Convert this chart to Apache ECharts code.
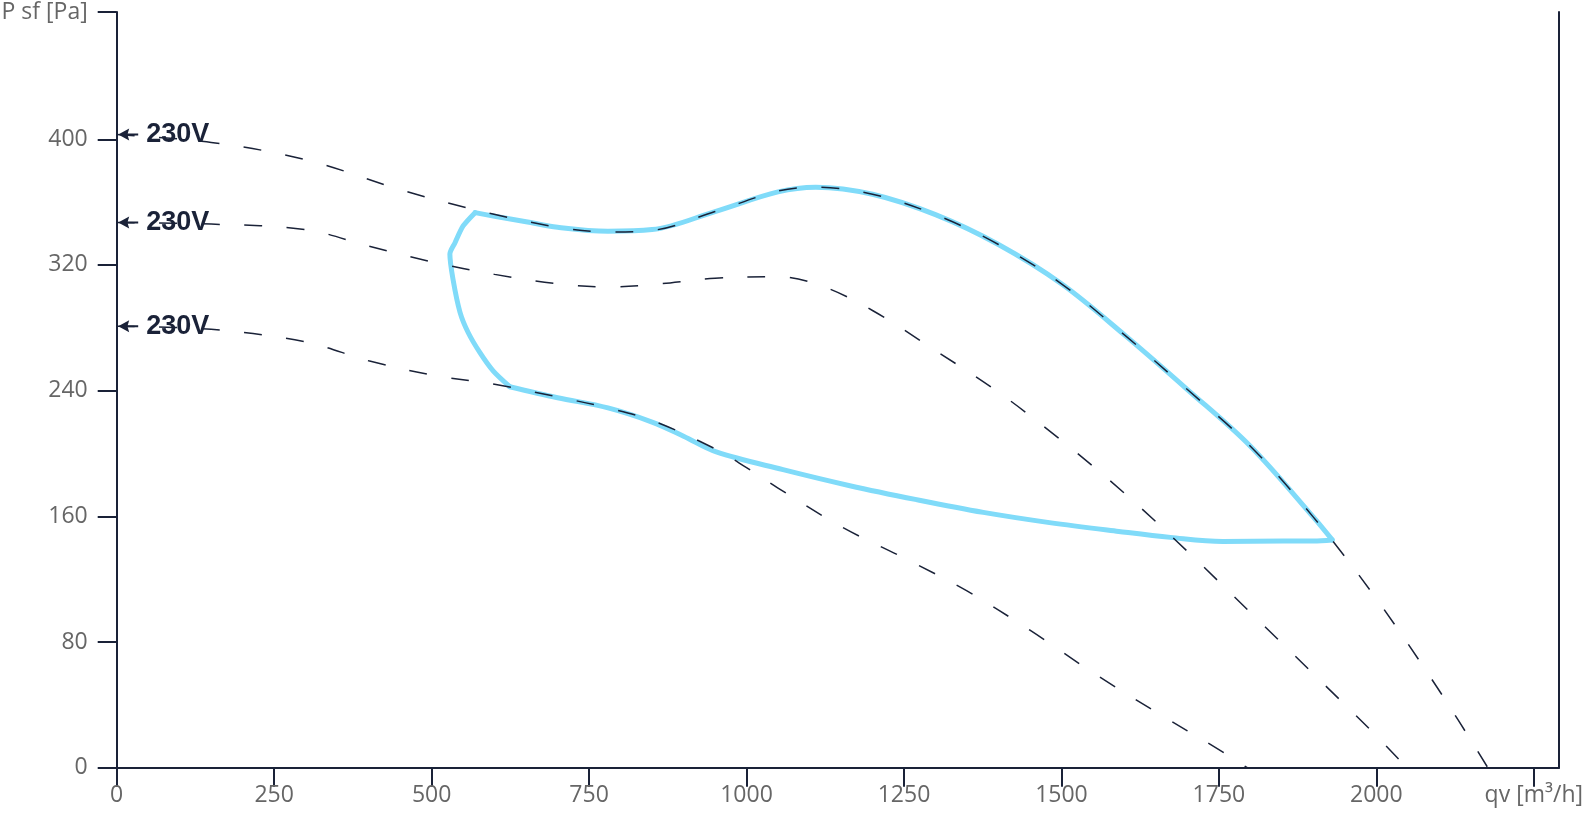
<!DOCTYPE html>
<html>
<head>
<meta charset="utf-8">
<title>Fan curve</title>
<script src="https://cdn.jsdelivr.net/npm/echarts@6/dist/echarts.min.js"></script>
<style>
  html, body { margin: 0; padding: 0; background: #fff; }
  #chart { width: 1592px; height: 814px; }
</style>
</head>
<body>
<div id="chart"></div>
<script>
// axis ticks
const xTicks = [0, 250, 500, 750, 1000, 1250, 1500, 1750, 2000, 2250]
const yTicks = [0, 80, 160, 240, 320, 400, 481]
const xName = 'qv [m³/h]'
const yName = 'P sf [Pa]'
const speedLabel = '230V'

// fan curves [qv, Psf]
const curveHigh = [[0, 403], [150, 398], [300, 387], [450, 368], [560, 356], [700, 344], [780, 341], [850, 342],
  [950, 354], [1050, 367], [1110, 369.5], [1200, 365], [1300, 352], [1400, 333], [1500, 308], [1600, 275.5],
  [1700, 240.7], [1800, 204.6], [1900, 159.5], [2000, 107.5], [2100, 49], [2177, 0]]
const curveMid = [[0, 347], [150, 346], [300, 342.5], [400, 332], [500, 322], [600, 314], [700, 308], [780, 306],
  [850, 307.5], [950, 311.5], [1050, 312.5], [1120, 306.5], [1200, 291], [1300, 265.5], [1400, 239], [1500, 208.3],
  [1600, 174.7], [1700, 137.7], [1800, 98.8], [1900, 59.7], [2000, 20.3], [2048, 0]]
const curveLow = [[0, 281], [150, 279], [300, 271], [400, 259], [500, 250], [600, 244], [700, 236], [780, 229],
  [850, 221], [950, 203], [1000, 191], [1050, 178], [1150, 153.5], [1250, 133.5], [1350, 112.5], [1450, 87.5],
  [1550, 60.5], [1650, 35.5], [1750, 11.5], [1795, 0]]

// working range envelope
const envTop = [[569, 353.3], [600, 351], [650, 347.5], [700, 344], [780, 341.5], [850, 342.5], [950, 354],
  [1050, 366.5], [1110, 369.5], [1200, 365], [1300, 352], [1400, 333], [1500, 308], [1600, 275.5], [1700, 240.7],
  [1800, 204.6], [1900, 159.5], [1930, 145]]
const envBottom = [[1930, 145], [1900, 144.3], [1852, 144.3], [1756, 144], [1673, 146.6], [1591, 150.4],
  [1481, 156], [1376, 162.5], [1270, 170.6], [1164, 179.5], [1058, 189.7], [952, 201], [900, 211], [850, 220],
  [780, 229], [700, 235.5], [624, 242.5]]
const envLeft = [[624, 242.5], [598, 252.4], [577, 264], [558, 277], [545, 290], [534, 310.8], [529, 327],
  [537, 334], [550, 344.8], [569, 353.3]]

const navy = '#1a2238'
const blue = '#80dbf9'
// left pointing arrow with shaft
const arrowPath = 'path://M0,6 L11,0 L9.5,5 L20,5 L20,7 L9.5,7 L11,12 Z'

const chart = echarts.init(document.getElementById('chart'))

const envSeries = (data, smooth) => ({
  type: 'line',
  data: data,
  smooth: smooth,
  symbol: 'none',
  silent: true,
  z: 2,
  lineStyle: { color: blue, width: 5, cap: 'round', join: 'round' }
})

const fanSeries = data => ({
  type: 'line',
  smooth: 0.35,
  symbol: 'none',
  showSymbol: true,
  clip: false,
  silent: true,
  z: 3,
  lineStyle: { color: navy, width: 1.5, type: [18, 24.5] },
  data: data.map((p, i) => i === 0 ? {
    value: p,
    symbol: arrowPath,
    symbolSize: [20, 12],
    symbolKeepAspect: false,
    symbolOffset: [11.5, 0],
    itemStyle: { color: navy },
    label: {
      show: true,
      position: 'right',
      distance: 8,
      formatter: speedLabel,
      color: navy,
      fontSize: 27,
      fontWeight: 'bold',
      fontFamily: 'Liberation Sans'
    }
  } : p)
})

const axisText = { color: '#666', fontSize: 23, fontFamily: 'Open Sans' }

chart.setOption({
  animation: false,
  grid: { left: 116.7, right: 33, top: 12, bottom: 46.3, containLabel: false, outerBoundsMode: 'none' },
  xAxis: {
    type: 'value',
    min: 0,
    max: 2290,
    interval: 250,
    splitLine: { show: false },
    axisLine: { lineStyle: { color: navy, width: 2 } },
    axisTick: { length: 19, lineStyle: { color: navy, width: 2 }, customValues: xTicks },
    axisLabel: Object.assign({
      margin: 16,
      customValues: xTicks,
      formatter: v => v === xTicks[xTicks.length - 1] ? xName : String(v)
    }, axisText)
  },
  yAxis: [{
    type: 'value',
    min: 0,
    max: 481,
    interval: 80,
    splitLine: { show: false },
    axisLine: { show: true, lineStyle: { color: navy, width: 2 } },
    axisTick: { show: true, length: 19, lineStyle: { color: navy, width: 2 }, customValues: yTicks },
    axisLabel: Object.assign({
      margin: 29,
      customValues: yTicks,
      formatter: v => v === yTicks[yTicks.length - 1] ? yName : String(v)
    }, axisText)
  }, {
    type: 'value',
    position: 'right',
    min: 0,
    max: 481,
    splitLine: { show: false },
    axisLine: { show: true, lineStyle: { color: navy, width: 2 } },
    axisTick: { show: false },
    axisLabel: { show: false }
  }],
  series: [
    envSeries(envTop, 0.35),
    envSeries(envBottom, 0.35),
    envSeries(envLeft, 0.25),
    fanSeries(curveHigh),
    fanSeries(curveMid),
    fanSeries(curveLow)
  ]
})
</script>
</body>
</html>
